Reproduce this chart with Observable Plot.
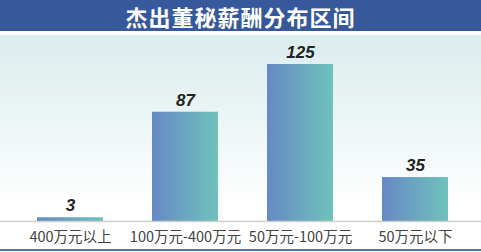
<!DOCTYPE html>
<html>
<head>
<meta charset="utf-8">
<script src="https://cdn.jsdelivr.net/npm/d3@7"></script>
<script src="https://cdn.jsdelivr.net/npm/@observablehq/plot@0.6"></script>
<style>
  html, body { margin: 0; padding: 0; background: #fff; }
  #wrap { width: 481px; height: 252px; overflow: hidden; }
  #title {
    height: 31px; line-height: 31px; background: #36599b; color: #fff;
    text-align: center; font: bold 22px "Noto Sans CJK SC", sans-serif; letter-spacing: 1px;
  }
</style>
</head>
<body>
<div id="wrap">
  <div id="title">杰出董秘薪酬分布区间</div>
  <div id="chart"></div>
</div>
<script>
// Salary bands and number of board secretaries in each
const categories = ["400万元以上", "100万元-400万元", "50万元-100万元", "50万元以下"];
const counts = [3, 87, 125, 35];

const data = categories.map((c, i) => ({band: c, count: counts[i]}));

// Horizontal blue-to-teal fill for the bars
const gradientDefs = () => {
  const defs = d3.create("svg:defs");
  const g = defs.append("linearGradient").attr("id", "barGrad")
    .attr("x1", "0").attr("x2", "1").attr("y1", "0").attr("y2", "0");
  g.append("stop").attr("offset", "0%").attr("stop-color", "#6689c4");
  g.append("stop").attr("offset", "100%").attr("stop-color", "#6fc2bc");
  return defs.node();
};

const chart = Plot.plot({
  width: 481,
  height: 221,
  marginTop: 33,
  marginBottom: 31,
  marginLeft: 0,
  marginRight: 0,
  style: {
    background:
      "linear-gradient(#5376b0, #5376b0) 0 218px / 100% 2px no-repeat," +
      "linear-gradient(to bottom, #fff 0px, #fff 4px, #dbeded 4px, #e6f2f2 60px, #fff 175px)",
    fontFamily: "'Noto Sans CJK SC', sans-serif"
  },
  x: {
    domain: categories,
    range: [0, 485],
    paddingInner: 0.427,
    paddingOuter: 0.32
  },
  y: {domain: [0, 125], axis: null},
  marks: [
    gradientDefs,
    Plot.barY(data, {x: "band", y: "count", fill: "url(#barGrad)"}),
    Plot.ruleY([0], {stroke: "#cfcfcf", strokeWidth: 1.5}),
    Plot.axisX({
      label: null, tickSize: 0, tickPadding: 10,
      fontSize: 14.5, fill: "#444"
    }),
    Plot.text(data, {
      x: "band", y: "count", text: d => String(d.count), dy: -12,
      fill: "#222", fontSize: 17, fontWeight: "bold", fontStyle: "italic",
      fontFamily: "'Liberation Sans', Arial, sans-serif", letterSpacing: 1
    })
  ]
});

document.getElementById("chart").appendChild(chart);
</script>
</body>
</html>
